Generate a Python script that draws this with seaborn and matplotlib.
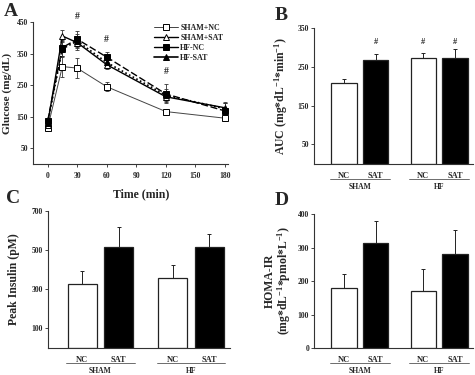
import matplotlib
matplotlib.use("Agg")
import matplotlib.pyplot as plt
import matplotlib.transforms as mtransforms
from matplotlib.lines import Line2D
import numpy as np
import pandas as pd
import seaborn as sns

# panel A: glucose tolerance curves
time_min = [0, 15, 30, 60, 120, 180]
series_names = ["SHAM+NC", "SHAM+SAT", "HF-NC", "HF-SAT"]
glucose = {
    "SHAM+NC": [113, 309, 304, 245, 166, 145],
    "SHAM+SAT": [125, 406, 385, 315, 213, 178],
    "HF-NC": [135, 369, 396, 339, 222, 168],
    "HF-SAT": [130, 365, 390, 322, 218, 175],
}
glucose_err = {
    "SHAM+NC": [8, 34, 32, 15, 7, 8],
    "SHAM+SAT": [8, 20, 22, 15, 12, 15],
    "HF-NC": [10, 25, 25, 15, 30, 25],
    "HF-SAT": [10, 25, 22, 15, 20, 20],
}

# bar panels
groups = ["SHAM", "HF"]
diets = ["NC", "SAT"]
auc = [208, 267, 272, 272]
auc_err = [12, 15, 15, 25]
insulin = [326, 514, 356, 514]
insulin_err = [66, 107, 71, 71]
homa = [178, 313, 170, 282]
homa_err = [44, 67, 66, 71]

sns.set_style("white")
plt.rcParams["font.family"] = ["Liberation Serif", "DejaVu Serif"]
plt.rcParams["font.weight"] = "bold"
plt.rcParams["axes.labelweight"] = "bold"
plt.rcParams["mathtext.fontset"] = "custom"
plt.rcParams["mathtext.rm"] = "Liberation Serif:bold"
plt.rcParams["mathtext.it"] = "Liberation Serif:bold"
plt.rcParams["mathtext.bf"] = "Liberation Serif:bold"

fig = plt.figure(figsize=(4.75, 3.75), dpi=100)
axA = fig.add_axes([0.069, 0.563, 0.411, 0.378])
axB = fig.add_axes([0.661, 0.563, 0.335, 0.362])
axC = fig.add_axes([0.101, 0.072, 0.383, 0.365])
axD = fig.add_axes([0.661, 0.072, 0.335, 0.357])


def style_axis(ax):
    sns.despine(ax=ax)
    for sp in ["left", "bottom"]:
        ax.spines[sp].set_linewidth(0.8)
        ax.spines[sp].set_color("#333333")
    ax.tick_params(axis="y", which="both", left=True, length=2, width=0.6,
                   pad=1.5, labelsize=5.5)


# ---- panel A ----
styles = {
    "SHAM+NC": dict(marker="s", mfc="white", ls="-", lw=0.7, color="#444444"),
    "SHAM+SAT": dict(marker="^", mfc="white", ls="-", lw=1.0, color="black"),
    "HF-NC": dict(marker="s", mfc="black", ls=(0, (5, 2)), lw=1.0, color="black"),
    "HF-SAT": dict(marker="^", mfc="black", ls=(0, (1, 1.5)), lw=1.2, color="black"),
}
rows = []
for name in series_names:
    for t, g in zip(time_min, glucose[name]):
        rows.append({"time": t, "glucose": g, "group": name})
dfA = pd.DataFrame(rows)
handles = []
for name in series_names:
    st = styles[name]
    axA.errorbar(time_min, glucose[name], yerr=glucose_err[name], fmt="none",
                 ecolor="#333333", elinewidth=0.6, capsize=1.5, capthick=0.6, zorder=2)
    sns.lineplot(data=dfA[dfA.group == name], x="time", y="glucose", ax=axA,
                 color=st["color"], linestyle=st["ls"], linewidth=st["lw"],
                 marker=st["marker"], markersize=4.5, markerfacecolor=st["mfc"],
                 markeredgecolor="black", markeredgewidth=0.7, legend=False, zorder=3)
    # legend keys are drawn with solid lines, as in the original figure
    handles.append(Line2D([], [], color=st["color"], ls="-", lw=st["lw"],
                          marker=st["marker"], markersize=4.5, markerfacecolor=st["mfc"],
                          markeredgecolor="black", markeredgewidth=0.7, label=name))
axA.set_xlim(-15, 183)
axA.set_ylim(0, 450)
axA.set_xticks(range(0, 181, 30))
axA.set_yticks(range(50, 451, 100))
style_axis(axA)
axA.tick_params(axis="x", bottom=True, length=2, width=0.6, pad=4, labelsize=5.5)
axA.set_xlabel("Time (min)", fontsize=8.5)
axA.set_ylabel("Glucose (mg/dL)", fontsize=8.2)
axA.xaxis.set_label_coords(0.554, -0.175)
axA.yaxis.set_label_coords(-0.108, 0.5)
axA.legend(handles=handles, loc="upper right", bbox_to_anchor=(1.0, 1.02),
           frameon=False, fontsize=5.8, handlelength=3.0, handletextpad=0.3,
           labelspacing=0.25, borderaxespad=0.2)
for t, y in [(30, 455), (60, 380), (120, 280)]:
    axA.text(t, y, "#", ha="center", va="bottom", fontsize=7, clip_on=False)


# ---- bar panels ----
def bar_panel(ax, values, errs, ylim, yticks, ylabel, label_x, hashes=None):
    df = pd.DataFrame({
        "group": [g for g in groups for _ in diets],
        "diet": [d for _ in groups for d in diets],
        "value": values,
    })
    sns.barplot(data=df, x="group", y="value", hue="diet", order=groups,
                hue_order=diets, palette={"NC": "white", "SAT": "black"},
                edgecolor="#222222", linewidth=0.9, gap=0.2, legend=False,
                errorbar=None, ax=ax)
    xs = [gi + (-0.2 if d == "NC" else 0.2) for gi in range(len(groups)) for d in diets]
    ax.errorbar(xs, values, yerr=[np.zeros(len(errs)), errs], fmt="none",
                ecolor="#222222", elinewidth=0.7, capsize=1.5, capthick=0.7, zorder=1)
    ax.set_xlim(-0.58, 1.43)
    ax.set_ylim(*ylim)
    ax.set_yticks(yticks)
    ax.set_xticks(xs)
    ax.set_xticklabels(diets * len(groups), fontsize=6)
    ax.tick_params(axis="x", bottom=False, pad=2)
    ax.set_xlabel("")
    ax.set_ylabel(ylabel, fontsize=8.5, linespacing=1.0)
    ax.yaxis.set_label_coords(label_x, 0.5)
    style_axis(ax)
    trans = mtransforms.blended_transform_factory(ax.transData, ax.transAxes)
    for gi, g in enumerate(groups):
        ax.plot([gi - 0.38, gi + 0.38], [-0.11, -0.11], transform=trans,
                color="#555555", lw=0.6, clip_on=False)
        ax.text(gi, -0.14, g, transform=trans, ha="center", va="top",
                fontsize=5.5)
    if hashes:
        for x, y in zip(xs, hashes):
            if y is not None:
                ax.text(x, y, "#", ha="center", va="bottom", fontsize=6)


bar_panel(axB, auc, auc_err, (0, 350), [50, 150, 250, 350],
          "AUC (mg*dL$^{-1}$*min$^{-1}$)", -0.15,
          hashes=[None, 305, 305, 305])
bar_panel(axC, insulin, insulin_err, (0, 700), [100, 300, 500, 700],
          "Peak Insulin (pM)", -0.154)
bar_panel(axD, homa, homa_err, (0, 400), [0, 100, 200, 300, 400],
          "HOMA-IR\n(mg*dL$^{-1}$*pmol*L$^{-1}$)", -0.132)

for letter, (x, y) in [("A", (0.008, 0.97)), ("B", (0.578, 0.96)),
                       ("C", (0.012, 0.47)), ("D", (0.578, 0.465))]:
    fig.text(x, y, letter, fontsize=14, fontweight="bold", ha="left", va="center")

fig.savefig("out.png", dpi=100)
